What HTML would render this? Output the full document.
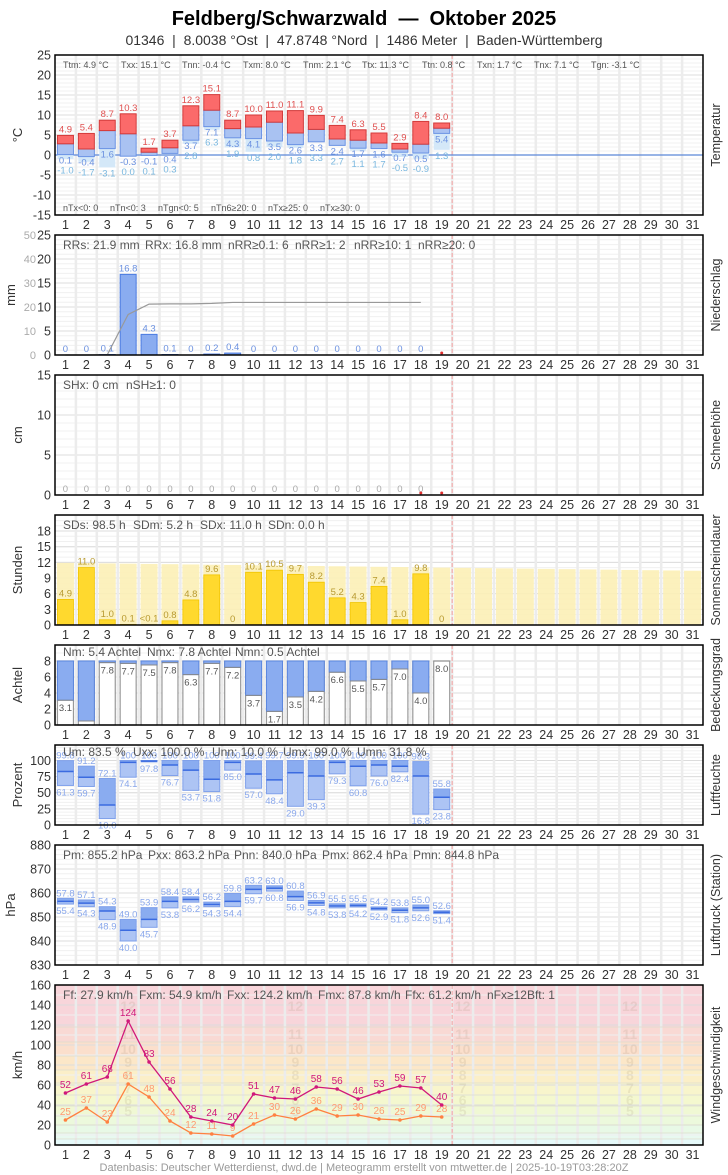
<!DOCTYPE html>
<html><head><meta charset="utf-8">
<style>
html,body{margin:0;padding:0;background:#fff;}
svg{display:block;font-family:"Liberation Sans",sans-serif;}
</style></head>
<body>
<svg id="s" width="728" height="1175" viewBox="0 0 728 1175" xmlns="http://www.w3.org/2000/svg">
<text x="364" y="25" text-anchor="middle" font-size="20" font-weight="bold" fill="#000" xml:space="preserve">Feldberg/Schwarzwald &#160;—&#160; Oktober 2025</text>
<text x="364" y="45" text-anchor="middle" font-size="14" fill="#333" xml:space="preserve">01346 &#160;|&#160; 8.0038 °Ost &#160;|&#160; 47.8748 °Nord &#160;|&#160; 1486 Meter &#160;|&#160; Baden-Württemberg</text>
<text x="364" y="1171" text-anchor="middle" font-size="11" fill="#999">Datenbasis: Deutscher Wetterdienst, dwd.de | Meteogramm erstellt von mtwetter.de | 2025-10-19T03:28:20Z</text>
</svg>
<script>
var S=document.getElementById('s'),NS='http://www.w3.org/2000/svg';
function el(t,a,txt){var e=document.createElementNS(NS,t);for(var k in a)e.setAttribute(k,a[k]);if(txt!==undefined)e.textContent=txt;S.appendChild(e);return e;}
var X0=55,X1=703,CW=(X1-X0)/31;
function cx(d){return X0+(d-0.5)*CW;}
function txt(x,y,s,o){o=o||{};var a={x:x,y:y,'font-size':o.fs||12,fill:o.c||'#333'};if(o.a)a['text-anchor']=o.a;if(o.tr)a.transform=o.tr;if(o.fw)a['font-weight']=o.fw;return el('text',a,s);}
function panel(top,bot,vmin,vmax,ticks,minor,leftLbl,leftX,rightLbl,bg){
 var f=function(v){return bot-(v-vmin)*(bot-top)/(vmax-vmin);};
 if(bg)bg(f);
 minor.forEach(function(v){el('line',{x1:X0,x2:X1,y1:f(v),y2:f(v),stroke:'#f0f0f0','stroke-width':1});});
 ticks.forEach(function(v){el('line',{x1:X0,x2:X1,y1:f(v),y2:f(v),stroke:'#dcdcdc','stroke-width':1});
  txt(51,f(v)+4.5,String(v),{a:'end',fs:12.5});});
 for(var k=1;k<31;k++){var x=X0+k*CW;el('line',{x1:x,x2:x,y1:top,y2:bot,stroke:'#ececec','stroke-width':2.5});}
 el('line',{x1:X0+19*CW,x2:X0+19*CW,y1:top,y2:bot,stroke:'#f4a0a0','stroke-width':1,'stroke-dasharray':'4,2'});
 for(var d=1;d<=31;d++)txt(cx(d),bot+14,String(d),{a:'middle',fs:12.5});
 txt(leftX,(top+bot)/2,leftLbl,{a:'middle',fs:13,tr:'rotate(-90 '+leftX+' '+(top+bot)/2+')'});
 txt(720,(top+bot)/2,rightLbl,{a:'middle',fs:12.5,tr:'rotate(-90 720 '+(top+bot)/2+')'});
 return f;
}
function frame(top,bot){el('rect',{x:X0,y:top,width:X1-X0,height:bot-top,fill:'none',stroke:'#000','stroke-width':1.5});}
function stats(y,arr,fs){arr.forEach(function(p){txt(p[0],y,p[1],{fs:fs||12,c:'#555'});});}
function rng(a,b,s){var r=[];for(var v=a;v<=b+1e-9;v+=s)r.push(Math.round(v*100)/100);return r;}

/* 1 Temperature */
var f=panel(55,215,-15,25,rng(-15,25,5),rng(-15,25,1),'°C',22,'Temperatur');
el('line',{x1:X0,x2:X1,y1:f(0),y2:f(0),stroke:'#5b87d8','stroke-width':1.3});
var Tx=[4.9,5.4,8.7,10.3,1.7,3.7,12.3,15.1,8.7,10.0,11.0,11.1,9.9,7.4,6.3,5.5,2.9,8.4,8.0];
var Tm=[2.8,1.5,6.1,5.3,0.7,1.8,7.3,11.2,6.6,7.0,8.2,5.5,6.4,4.0,3.7,3.0,1.5,2.7,6.7];
var Tn=[0.1,-0.4,1.6,-0.3,-0.1,0.4,3.7,7.1,4.3,4.1,3.5,2.6,3.3,2.4,1.7,1.6,0.7,0.5,5.4];
var Tg=[-1.0,-1.7,-3.1,0.0,0.1,0.3,2.8,6.3,1.9,0.8,2.0,1.8,3.3,2.7,1.1,1.7,-0.5,-0.9,1.3];
for(var i=0;i<19;i++){var x=cx(i+1)-8;
 el('rect',{x:x,y:f(Math.max(Tn[i],Tg[i])),width:16,height:Math.abs(Tn[i]-Tg[i])*4,fill:'#d4e8f8'});
 el('rect',{x:x,y:f(Tm[i]),width:16,height:(Tm[i]-Tn[i])*4,fill:'#a9c2f2',stroke:'#6b93e4','stroke-width':1});
 el('rect',{x:x,y:f(Tx[i]),width:16,height:(Tx[i]-Tm[i])*4,fill:'#fb6a6a',stroke:'#d23a3a','stroke-width':1});
 txt(cx(i+1),f(Tx[i])-3,Tx[i].toFixed(1),{a:'middle',fs:9.5,c:'#e05050'});
 txt(cx(i+1),f(Math.min(Tn[i],Tm[i]))+9,Tn[i].toFixed(1),{a:'middle',fs:9.5,c:'#6a90e0'});
 txt(cx(i+1),Math.max(f(Tg[i])+9,f(Tn[i])+19),Tg[i].toFixed(1),{a:'middle',fs:9.5,c:'#7ab8e0'});
}
stats(68,[[63,'Ttm: 4.9 °C'],[121,'Txx: 15.1 °C'],[182,'Tnn: -0.4 °C'],[243,'Txm: 8.0 °C'],[303,'Tnm: 2.1 °C'],[362,'Ttx: 11.3 °C'],[422,'Ttn: 0.8 °C'],[477,'Txn: 1.7 °C'],[534,'Tnx: 7.1 °C'],[591,'Tgn: -3.1 °C']],9);
stats(211,[[63,'nTx<0: 0'],[110,'nTn<0: 3'],[158,'nTgn<0: 5'],[211,'nTn6≥20: 0'],[268,'nTx≥25: 0'],[320,'nTx≥30: 0']],9);
frame(55,215);

/* 2 Precip */
f=panel(235,355,0,25,rng(0,25,5),rng(0,25,1),'mm',15,'Niederschlag');
[0,10,20,30,40,50].forEach(function(v){txt(36,f(v/2)+4,String(v),{a:'end',fs:11,c:'#aaa'});});
var RR=[0,0,0.1,16.8,4.3,0.1,0,0.2,0.4,0,0,0,0,0,0,0,0,0];
var cum=0,pts=[];
for(i=0;i<18;i++){cum+=RR[i];pts.push(cx(i+1)+','+f(cum/2));
 if(RR[i]>0)el('rect',{x:cx(i+1)-8,y:f(RR[i]),width:16,height:RR[i]*4.8,fill:'#8aacf0',stroke:'#4a7ae0','stroke-width':1});
 txt(cx(i+1),(RR[i]>0?f(RR[i]):355)-3,RR[i]===0?'0':String(RR[i]),{a:'middle',fs:9.5,c:'#6a90e0'});}
el('polyline',{points:pts.join(' '),fill:'none',stroke:'#999','stroke-width':1.2});
el('circle',{cx:cx(19),cy:353,r:1.5,fill:'#e03030'});
stats(249,[[63,'RRs: 21.9 mm'],[145,'RRx: 16.8 mm'],[228,'nRR≥0.1: 6'],[295,'nRR≥1: 2'],[354,'nRR≥10: 1'],[418,'nRR≥20: 0']]);
frame(235,355);

/* 3 Snow */
f=panel(375,495,0,15,[0,5,10,15],rng(0,15,1),'cm',22,'Schneehöhe');
for(i=0;i<18;i++)txt(cx(i+1),492,'0',{a:'middle',fs:9.5,c:'#aaa'});
el('circle',{cx:cx(18),cy:493,r:1.5,fill:'#e03030'});el('circle',{cx:cx(19),cy:493,r:1.5,fill:'#e03030'});
stats(389,[[63,'SHx: 0 cm'],[126,'nSH≥1: 0']]);
frame(375,495);

/* 4 Sun */
f=panel(515,625,0,21.07,[0,3,6,9,12,15,18],rng(0,21,1),'Stunden',22,'Sonnenscheindauer');
var SD=[4.9,11.0,1.0,0.1,0.05,0.8,4.8,9.6,0,10.1,10.5,9.7,8.2,5.2,4.3,7.4,1.0,9.8,0];
var SL=['4.9','11.0','1.0','0.1','<0.1','0.8','4.8','9.6','0','10.1','10.5','9.7','8.2','5.2','4.3','7.4','1.0','9.8','0'];
for(var d=1;d<=31;d++){var pv=11.9-(d-1)*0.05;el('rect',{x:cx(d)-8.5,y:f(pv),width:17,height:625-f(pv),fill:'#fcefb6',opacity:0.9});}
for(i=0;i<19;i++){if(SD[i]>0.01)el('rect',{x:cx(i+1)-8,y:f(SD[i]),width:16,height:625-f(SD[i]),fill:'#ffd92e',stroke:'#f0c400','stroke-width':0.8});
 txt(cx(i+1),f(SD[i])-3,SL[i],{a:'middle',fs:9.5,c:'#b89a30'});}
stats(529,[[63,'SDs: 98.5 h'],[133,'SDm: 5.2 h'],[200,'SDx: 11.0 h'],[268,'SDn: 0.0 h']]);
frame(515,625);

/* 5 Cloud */
f=panel(645,725,0,10,[0,2,4,6,8],rng(0,10,1),'Achtel',22,'Bedeckungsgrad');
var N=[3.1,0.5,7.8,7.7,7.5,7.8,6.3,7.7,7.2,3.7,1.7,3.5,4.2,6.6,5.5,5.7,7.0,4.0,8.0];
for(i=0;i<19;i++){var x=cx(i+1)-8;
 el('rect',{x:x,y:f(8),width:16,height:64,fill:'#fff',stroke:'#999','stroke-width':1.2});
 if(N[i]<8)el('rect',{x:x,y:f(8),width:16,height:(8-N[i])*8,fill:'#8aacf0',stroke:'#5b87e0','stroke-width':1});
 el('line',{x1:x,x2:x+16,y1:f(N[i]),y2:f(N[i]),stroke:'#888','stroke-width':1});
 txt(cx(i+1),f(N[i])+11,N[i].toFixed(1),{a:'middle',fs:9.5,c:N[i]<1?'#fff':'#555',fw:N[i]<1?'bold':'normal'});}
stats(656,[[63,'Nm: 5.4 Achtel'],[147,'Nmx: 7.8 Achtel'],[235,'Nmn: 0.5 Achtel']]);
frame(645,725);

/* 6 Humidity */
f=panel(745,825,0,124,[0,25,50,75,100],rng(0,120,5),'Prozent',22,'Luftfeuchte');
var Ux=[99.8,91.2,72.1,100,100,100,100,100,100,99.4,99.7,99.9,100,100,100,100,100,98.3,55.8];
var Um=[83,74,31,97,99,93,85,71,97,79,70,81,76,97,91,93,91,76,43];
var Un=[61.3,59.7,10.0,74.1,97.8,76.7,53.7,51.8,85.0,57.0,48.4,29.0,39.3,79.3,60.8,76.0,82.4,16.8,23.8];
for(i=0;i<19;i++){var x=cx(i+1)-8;
 el('rect',{x:x,y:f(Um[i]),width:16,height:f(Un[i])-f(Um[i]),fill:'#adc4f4',stroke:'#7fa0ea','stroke-width':1});
 el('rect',{x:x,y:f(Ux[i]),width:16,height:f(Um[i])-f(Ux[i]),fill:'#8aacf0',stroke:'#7fa0ea','stroke-width':1});
 el('line',{x1:x,x2:x+16,y1:f(Um[i]),y2:f(Um[i]),stroke:'#3b6be0','stroke-width':1.5});
 txt(cx(i+1),f(Ux[i])-2,Ux[i]===100?'100':Ux[i].toFixed(1),{a:'middle',fs:9.5,c:'#8aa8ec'});
 txt(cx(i+1),f(Un[i])+10,Un[i].toFixed(1),{a:'middle',fs:9.5,c:'#8aa8ec'});}
stats(756,[[63,'Um: 83.5 %'],[133,'Uxx: 100.0 %'],[212,'Unn: 10.0 %'],[283,'Umx: 99.0 %'],[357,'Umn: 31.8 %']]);
frame(745,825);

/* 7 Pressure */
f=panel(845,965,830,880,rng(830,880,10),rng(830,880,2),'hPa',15,'Luftdruck (Station)');
var Px=[857.8,857.1,854.3,849.0,853.9,858.4,858.4,856.2,859.8,863.2,863.0,860.8,856.9,855.5,855.5,854.2,853.8,855.0,852.6];
var Pm=[856.5,855.8,852.5,844.5,849,856.5,857.3,855.2,856.5,861.5,862,858.5,855.9,854.6,854.8,853.5,852.8,853.8,852.0];
var Pn=[855.4,854.3,848.9,840.0,845.7,853.8,856.2,854.3,854.4,859.7,860.8,856.9,854.8,853.8,854.2,852.9,851.8,852.6,851.4];
for(i=0;i<19;i++){var x=cx(i+1)-8;
 el('rect',{x:x,y:f(Pm[i]),width:16,height:f(Pn[i])-f(Pm[i]),fill:'#adc4f4',stroke:'#7fa0ea','stroke-width':1});
 el('rect',{x:x,y:f(Px[i]),width:16,height:f(Pm[i])-f(Px[i]),fill:'#8aacf0',stroke:'#7fa0ea','stroke-width':1});
 el('line',{x1:x,x2:x+16,y1:f(Pm[i]),y2:f(Pm[i]),stroke:'#3b6be0','stroke-width':1.5});
 txt(cx(i+1),f(Px[i])-2,(Px[i]-800).toFixed(1),{a:'middle',fs:9.5,c:'#8aa8ec'});
 txt(cx(i+1),f(Pn[i])+10,(Pn[i]-800).toFixed(1),{a:'middle',fs:9.5,c:'#8aa8ec'});}
stats(859,[[63,'Pm: 855.2 hPa'],[148,'Pxx: 863.2 hPa'],[234,'Pnn: 840.0 hPa'],[322,'Pmx: 862.4 hPa'],[413,'Pmn: 844.8 hPa']]);
frame(845,965);

/* 8 Wind */
var bands=[[0,6,'#e6fafa'],[6,12,'#e8f9f0'],[12,20,'#e8f9e6'],[20,29,'#ecf9dc'],[29,39,'#f0f8d4'],[39,50,'#f4f8cf'],[50,62,'#f8f5cc'],[62,75,'#fbefc8'],[75,89,'#fce7c8'],[89,103,'#fbdfcc'],[103,118,'#f9d9d4'],[118,160,'#f8d5da']];
f=panel(985,1145,0,160,rng(0,160,20),rng(0,160,10),'km/h',22,'Windgeschwindigkeit',function(g){
 bands.forEach(function(b){el('rect',{x:X0,y:g(b[1]),width:X1-X0,height:g(b[0])-g(b[1]),fill:b[2]});});});
bands.forEach(function(b){if(b[0]>0)el('line',{x1:X0,x2:X1,y1:f(b[0]),y2:f(b[0]),stroke:'#dcdccc','stroke-width':0.8});});
var bf=[[5,33],[6,44],[7,56],[8,69],[9,82],[10,95],[11,110],[12,138]];
[4,12,20,28].forEach(function(d){bf.forEach(function(b){txt(cx(d),f(b[1])+4,String(b[0]),{a:'middle',fs:14,fw:'bold',c:'rgba(150,130,100,0.14)'});});});
var Fx=[52,61,68,124,83,56,28,24,20,51,47,46,58,56,46,53,59,57,40];
var Ff=[25,37,23,61,48,24,12,11,9,21,30,26,36,29,30,26,25,29,28];
[[Ff,'#ff8040','#ff9a70'],[Fx,'#d0187a','#d0187a']].forEach(function(s){
 var p=s[0].map(function(v,i){return cx(i+1)+','+f(v);}).join(' ');
 el('polyline',{points:p,fill:'none',stroke:s[1],'stroke-width':1.3});
 s[0].forEach(function(v,i){el('circle',{cx:cx(i+1),cy:f(v),r:1.8,fill:s[1]});txt(cx(i+1),f(v)-5,String(v),{a:'middle',fs:10,c:s[2]});});});
stats(999,[[63,'Ff: 27.9 km/h'],[139,'Fxm: 54.9 km/h'],[227,'Fxx: 124.2 km/h'],[318,'Fmx: 87.8 km/h'],[405,'Ffx: 61.2 km/h'],[487,'nFx≥12Bft: 1']]);
frame(985,1145);
</script>
</body></html>
